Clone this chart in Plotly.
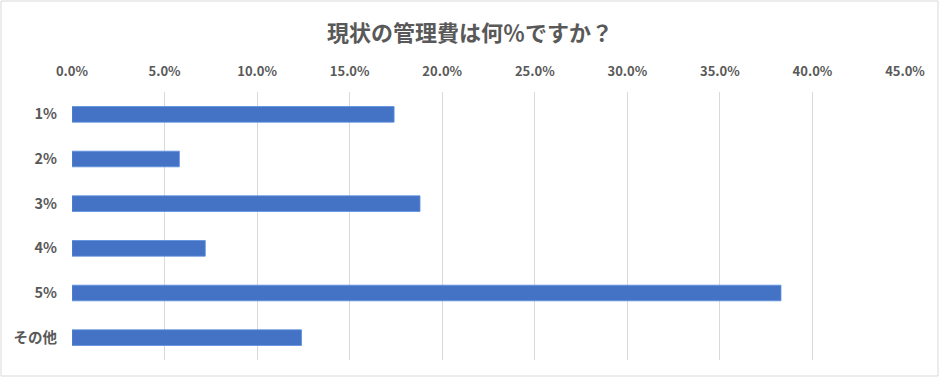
import plotly.graph_objects as go

categories = ["1%", "2%", "3%", "4%", "5%", "その他"]
values = [17.4, 5.8, 18.8, 7.2, 38.3, 12.4]
tick_vals = [0, 5, 10, 15, 20, 25, 30, 35, 40, 45]
tick_text = ["0.0%", "5.0%", "10.0%", "15.0%", "20.0%", "25.0%", "30.0%", "35.0%", "40.0%", "45.0%"]
title_text = "現状の管理費は何％ですか？"

W, H = 940, 378
L, R, T, B = 72, 35, 92, 18
pw, ph = W - L - R, H - T - B

font_family = "Noto Sans CJK JP, Noto Sans, sans-serif"
gray = "#595959"

fig = go.Figure(go.Bar(
    x=values, y=categories, orientation="h",
    marker=dict(color="#4472C4", line=dict(color="#5B8FE0", width=0.8)),
    width=0.35,
))

fig.update_layout(
    width=W, height=H,
    margin=dict(l=L, r=R, t=T, b=B, autoexpand=False),
    paper_bgcolor="white", plot_bgcolor="white",
    showlegend=False,
    title=dict(text=title_text, x=0.5, xref="container", y=1 - 33 / H, yref="container",
               yanchor="middle", xanchor="center",
               font=dict(family=font_family, size=22, color=gray, weight="bold")),
    font=dict(family=font_family, color=gray),
    xaxis=dict(side="top", range=[0, 45], tickvals=tick_vals, ticktext=tick_text,
               showgrid=True, gridcolor="#d9d9d9", gridwidth=1, zeroline=False,
               showline=False, ticks="", ticklabelstandoff=12,
               tickfont=dict(size=13, color=gray, weight="bold")),
    yaxis=dict(autorange="reversed", showgrid=False, zeroline=False, showline=False,
               ticks="", ticklabelstandoff=14,
               tickfont=dict(size=14.5, color=gray, weight="bold")),
)

fig.add_shape(type="rect", xref="paper", yref="paper",
              x0=(1 - L) / pw, x1=(W - 2 - L) / pw,
              y0=(H - B - (H - 2)) / ph, y1=(H - B - 1) / ph,
              line=dict(color="#d9d9d9", width=1), fillcolor="rgba(0,0,0,0)", layer="below")

fig.write_html("out.html", config={"displayModeBar": False},
               post_script="document.body.style.margin='0';document.body.style.overflow='hidden';")
